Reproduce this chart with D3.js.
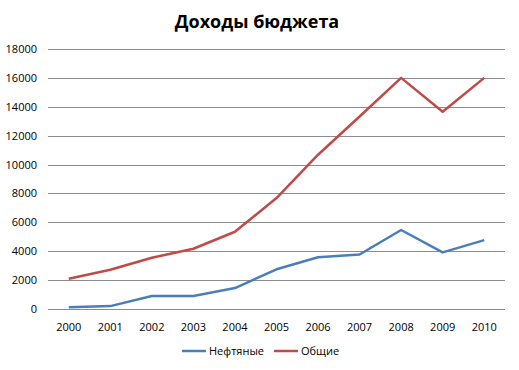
<!DOCTYPE html>
<html>
<head>
<meta charset="utf-8">
<script src="https://cdn.jsdelivr.net/npm/d3@7"></script>
<style>
  body { margin: 0; background: #fff; }
  text { font-family: "Open Sans", "Noto Sans", sans-serif; fill: #000; }
</style>
</head>
<body>
<div id="chart"></div>
<script>
  var years = ["2000", "2001", "2002", "2003", "2004", "2005", "2006", "2007", "2008", "2009", "2010"];
  var oilValues = [120, 200, 900, 900, 1450, 2750, 3580, 3770, 5470, 3920, 4770];
  var totalValues = [2100, 2720, 3550, 4170, 5350, 7680, 10680, 13330, 16000, 13650, 16000];
  var yTicks = [0, 2000, 4000, 6000, 8000, 10000, 12000, 14000, 16000, 18000];
  var seriesNames = ["Нефтяные", "Общие"];
  var colors = ["#4a7ebb", "#be4b48"];
  var title = "Доходы бюджета";

  (function() {
    var width = 519, height = 370;
    var plotLeft = 48, plotRight = 505, plotTop = 49, plotBottom = 309;

    var svg = d3.select("#chart").append("svg")
      .attr("width", width).attr("height", height);

    var x = d3.scaleBand().domain(years).range([plotLeft, plotRight]);
    var y = d3.scaleLinear().domain([0, 18000]).range([plotBottom, plotTop]);

    // title
    svg.append("text")
      .attr("x", 257).attr("y", 28)
      .attr("text-anchor", "middle")
      .style("font-size", "18px").style("font-weight", "bold")
      .text(title);

    // gridlines
    svg.append("g").selectAll("line").data(yTicks).enter().append("line")
      .attr("x1", plotLeft).attr("x2", plotRight)
      .attr("y1", function(d) { return Math.round(y(d)) + 0.5; })
      .attr("y2", function(d) { return Math.round(y(d)) + 0.5; })
      .style("stroke", "#8c8c8c").style("stroke-width", 1);

    // y labels
    svg.append("g").selectAll("text").data(yTicks).enter().append("text")
      .attr("x", 37)
      .attr("y", function(d) { return y(d) + 4; })
      .attr("text-anchor", "end")
      .style("font-size", "11px")
      .text(function(d) { return d; });

    // x labels
    svg.append("g").selectAll("text").data(years).enter().append("text")
      .attr("x", function(d) { return x(d) + x.bandwidth() / 2; })
      .attr("y", 331)
      .attr("text-anchor", "middle")
      .style("font-size", "11px")
      .text(function(d) { return d; });

    var line = d3.line()
      .x(function(d, i) { return x(years[i]) + x.bandwidth() / 2; })
      .y(function(d) { return y(d); });

    [oilValues, totalValues].forEach(function(vals, i) {
      svg.append("path")
        .datum(vals)
        .attr("d", line)
        .style("fill", "none")
        .style("stroke", colors[i])
        .style("stroke-width", 2.5)
        .style("stroke-linejoin", "round");
    });

    // legend
    var legendX = [182, 274];
    seriesNames.forEach(function(name, i) {
      var g = svg.append("g").attr("transform", "translate(" + legendX[i] + ",351)");
      g.append("line").attr("x1", 0).attr("x2", 24).attr("y1", 0).attr("y2", 0)
        .style("stroke", colors[i]).style("stroke-width", 2.5);
      g.append("text").attr("x", 27).attr("y", 4)
        .style("font-size", "11px")
        .text(name);
    });
  })();
</script>
</body>
</html>
